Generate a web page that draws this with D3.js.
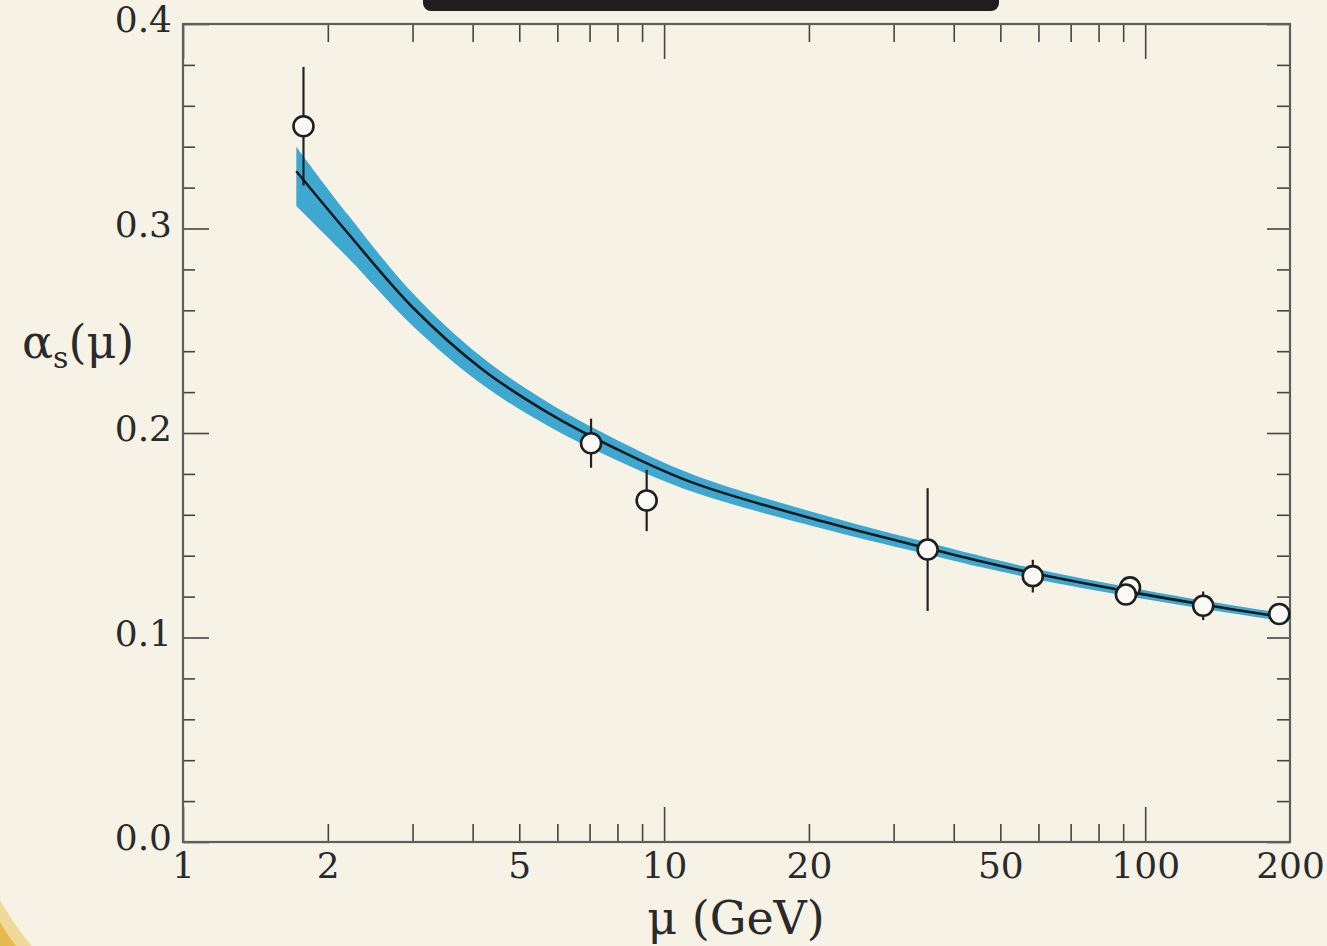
<!DOCTYPE html>
<html>
<head>
<meta charset="utf-8">
<title>Running coupling alpha_s</title>
<script src="https://d3js.org/d3.v7.min.js"></script>
<style>
  body { margin: 0; background: #f6f3e6; }
  svg { display: block; }
  .tick text { font-family: "DejaVu Serif", serif; fill: #2a2a2a; }
</style>
</head>
<body>
<div id="chart"></div>
<script>

// tick labels
var xLabels = [1, 2, 5, 10, 20, 50, 100, 200];
var xMajor = [1, 10, 100];
var yLabels = [0.0, 0.1, 0.2, 0.3, 0.4];

// measurements (mu in GeV, alpha_s, error)
var pointMu    = [1.78, 7.05, 9.2, 35.3, 58.4, 93.0, 91.2, 132, 190];
var pointAlpha = [0.350, 0.195, 0.167, 0.143, 0.130, 0.1245, 0.121, 0.1155, 0.1115];
var pointErr   = [0.029, 0.012, 0.015, 0.030, 0.008, 0.005, 0.003, 0.007, 0.002];

// QCD curve and its uncertainty band
var curveMu    = [1.72, 2.2, 3.0, 4.16, 5.73, 7.87, 11.5, 21.9, 35.5, 46, 58.4, 93, 132, 200];
var curveAlpha = [0.328, 0.2978, 0.2615, 0.2317, 0.2100, 0.1928, 0.1756, 0.1561, 0.1435, 0.1370, 0.1315, 0.1223, 0.1161, 0.1094];
var bandUpper  = [0.340, 0.3068, 0.2685, 0.2375, 0.2150, 0.1973, 0.1796, 0.1593, 0.1463, 0.1396, 0.1339, 0.1245, 0.1181, 0.1113];
var bandLower  = [0.311, 0.2858, 0.2525, 0.2242, 0.2035, 0.1873, 0.1711, 0.1526, 0.1405, 0.1342, 0.1289, 0.1200, 0.1140, 0.1074];

var W = 1327, H = 946;
var svg = d3.select("#chart").append("svg")
    .attr("width", W)
    .attr("height", H);

svg.append("rect").attr("width", W).attr("height", H).attr("fill", "#f6f3e6");

// scanned page bits: dark box cut off at the top, yellow corner bottom left
svg.append("rect")
    .attr("x", 423).attr("y", -14)
    .attr("width", 576).attr("height", 25)
    .attr("rx", 8)
    .attr("fill", "#1e1e1e");
svg.append("path")
    .attr("d", "M0,900 Q14,925 32,946 L0,946 Z")
    .attr("fill", "#f0d89a");
svg.append("path")
    .attr("d", "M0,922 Q8,936 16,946 L0,946 Z")
    .attr("fill", "#e6b94f");

var x = d3.scaleLog().domain([1, 200]).range([183, 1290]);
var y = d3.scaleLinear().domain([0, 0.4]).range([842, 24]);

var xMinor = x.ticks().filter(function(d) { return xMajor.indexOf(d) < 0 && d < 200; });
var yMinor = d3.range(0, 0.401, 0.02).filter(function(d) { return Math.abs(d * 10 - Math.round(d * 10)) > 0.001; });

function plain(g) {
  g.select(".domain").remove();
  g.selectAll(".tick line").attr("stroke", "#444").attr("stroke-width", 1.6);
}

// bottom axis
svg.append("g").attr("transform", "translate(0,842)")
  .call(d3.axisBottom(x).tickValues(xMinor).tickSize(-18).tickFormat(""))
  .call(plain);
svg.append("g").attr("transform", "translate(0,842)")
  .call(d3.axisBottom(x).tickValues(xMajor).tickSize(-35).tickFormat(""))
  .call(plain);
svg.append("g").attr("transform", "translate(0,842)")
  .call(d3.axisBottom(x).tickValues(xLabels).tickSize(0).tickPadding(10).tickFormat(d3.format("d")))
  .call(plain)
  .selectAll("text").attr("font-size", 36);

// top axis
svg.append("g").attr("transform", "translate(0,24)")
  .call(d3.axisTop(x).tickValues(xMinor).tickSize(-18).tickFormat(""))
  .call(plain);
svg.append("g").attr("transform", "translate(0,24)")
  .call(d3.axisTop(x).tickValues(xMajor).tickSize(-35).tickFormat(""))
  .call(plain);

// left axis
svg.append("g").attr("transform", "translate(183,0)")
  .call(d3.axisLeft(y).tickValues(yMinor).tickSize(-12).tickFormat(""))
  .call(plain);
svg.append("g").attr("transform", "translate(183,0)")
  .call(d3.axisLeft(y).tickValues(yLabels).tickSize(-26).tickPadding(11).tickFormat(d3.format(".1f")))
  .call(plain)
  .selectAll("text").attr("font-size", 36).attr("dy", "0.22em");

// right axis
svg.append("g").attr("transform", "translate(1290,0)")
  .call(d3.axisRight(y).tickValues(yMinor).tickSize(-13).tickFormat(""))
  .call(plain);
svg.append("g").attr("transform", "translate(1290,0)")
  .call(d3.axisRight(y).tickValues(yLabels).tickSize(-23).tickFormat(""))
  .call(plain);

// frame
svg.append("rect")
    .attr("x", x(1)).attr("y", y(0.4))
    .attr("width", x(200) - x(1)).attr("height", y(0) - y(0.4))
    .attr("fill", "none")
    .attr("stroke", "#5e5e5e")
    .attr("stroke-width", 2.2);

var curveData = curveMu.map(function(m, i) {
  return { mu: m, a: curveAlpha[i], hi: bandUpper[i], lo: bandLower[i] };
});

// band
svg.append("path")
    .datum(curveData)
    .attr("fill", "#3ea8d0")
    .attr("d", d3.area()
      .curve(d3.curveCatmullRom.alpha(0.5))
      .x(function(d) { return x(d.mu); })
      .y0(function(d) { return y(d.lo); })
      .y1(function(d) { return y(d.hi); }));

var points = pointMu.map(function(m, i) {
  return { mu: m, a: pointAlpha[i], err: pointErr[i] };
});

// error bars
svg.append("g").selectAll("line")
  .data(points)
  .enter().append("line")
    .attr("x1", function(d) { return x(d.mu); })
    .attr("x2", function(d) { return x(d.mu); })
    .attr("y1", function(d) { return y(d.a - d.err); })
    .attr("y2", function(d) { return y(d.a + d.err); })
    .attr("stroke", "#222")
    .attr("stroke-width", 2.2);

// central curve
svg.append("path")
    .datum(curveData)
    .attr("fill", "none")
    .attr("stroke", "#141a1e")
    .attr("stroke-width", 2.6)
    .attr("d", d3.line()
      .curve(d3.curveCatmullRom.alpha(0.5))
      .x(function(d) { return x(d.mu); })
      .y(function(d) { return y(d.a); }));

// data points
svg.append("g").selectAll("circle")
  .data(points)
  .enter().append("circle")
    .attr("cx", function(d) { return x(d.mu); })
    .attr("cy", function(d) { return y(d.a); })
    .attr("r", 10)
    .attr("fill", "#fbfaf4")
    .attr("stroke", "#1e1e1e")
    .attr("stroke-width", 2.6);

// axis titles
svg.append("text")
    .attr("x", 736).attr("y", 934)
    .attr("text-anchor", "middle")
    .attr("font-family", "DejaVu Serif, serif")
    .attr("font-size", 46)
    .attr("fill", "#2a2a2a")
    .text("\u03bc (GeV)");

var ylab = svg.append("text")
    .attr("x", 22).attr("y", 358)
    .attr("font-family", "DejaVu Serif, serif")
    .attr("font-size", 46)
    .attr("fill", "#2a2a2a");
ylab.append("tspan").text("\u03b1");
ylab.append("tspan").attr("font-size", 30).attr("dy", 10).text("s");
ylab.append("tspan").attr("dy", -10).text("(\u03bc)");

</script>
</body>
</html>
